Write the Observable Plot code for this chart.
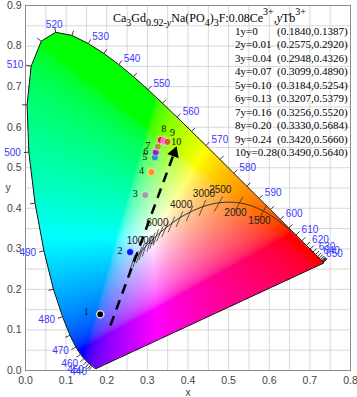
<!DOCTYPE html>
<html><head><meta charset="utf-8">
<script src="https://cdn.jsdelivr.net/npm/d3@7"></script>
<script src="https://cdn.jsdelivr.net/npm/@observablehq/plot@0.6"></script>
<style>
body{margin:0;background:#fff;}
#wrap{position:relative;width:357px;height:397px;}
#title{position:absolute;left:113px;top:11px;font:12px "Liberation Serif","Times New Roman",serif;line-height:14px;color:#000;white-space:nowrap;}
#title sub{font-size:10px;vertical-align:-4px;line-height:0;}
#title sup{font-size:10px;vertical-align:7px;line-height:0;}
#table{position:absolute;left:235px;top:25px;display:grid;grid-template-columns:auto auto;font:11px "Liberation Serif","Times New Roman",serif;line-height:13.45px;color:#000;white-space:pre;}
</style></head>
<body><div id="wrap"></div>
<script>
// CIE 1931 spectral locus (5 nm)
const wavelengths = [380,385,390,395,400,405,410,415,420,425,430,435,440,445,450,455,460,465,470,475,480,485,490,495,500,505,510,515,520,525,530,535,540,545,550,555,560,565,570,575,580,585,590,595,600,605,610,615,620,625,630,635,640,645,650,655,660,665,670,675,680,685,690,695,700];
const locusX = [0.1741,0.1740,0.1738,0.1736,0.1733,0.1730,0.1726,0.1721,0.1714,0.1703,0.1689,0.1669,0.1644,0.1611,0.1566,0.1510,0.1440,0.1355,0.1241,0.1096,0.0913,0.0687,0.0454,0.0235,0.0082,0.0039,0.0139,0.0389,0.0743,0.1142,0.1547,0.1929,0.2296,0.2658,0.3016,0.3373,0.3731,0.4087,0.4441,0.4788,0.5125,0.5448,0.5752,0.6029,0.6270,0.6482,0.6658,0.6801,0.6915,0.7006,0.7079,0.7140,0.7190,0.7230,0.7260,0.7283,0.7300,0.7311,0.7320,0.7327,0.7334,0.7340,0.7344,0.7346,0.7347];
const locusY = [0.0050,0.0050,0.0049,0.0049,0.0048,0.0048,0.0048,0.0048,0.0051,0.0058,0.0069,0.0086,0.0109,0.0138,0.0177,0.0227,0.0297,0.0399,0.0578,0.0868,0.1327,0.2007,0.2950,0.4127,0.5384,0.6548,0.7502,0.8120,0.8338,0.8262,0.8059,0.7816,0.7543,0.7243,0.6923,0.6589,0.6245,0.5896,0.5547,0.5202,0.4866,0.4544,0.4242,0.3965,0.3725,0.3514,0.3340,0.3197,0.3083,0.2993,0.2920,0.2859,0.2809,0.2770,0.2740,0.2717,0.2700,0.2689,0.2680,0.2673,0.2666,0.2660,0.2656,0.2654,0.2653];
const labelWavelengths = [440,450,460,470,480,490,500,510,520,530,540,550,560,570,580,590,600,610,620,630,640,650];

// Planckian locus
const planckT = [1000,1200,1400,1500,1600,1800,2000,2200,2500,2800,3000,3500,4000,4500,5000,5500,6000,6500,7000,8000,9000,10000,12000,15000];
const planckX = [0.6528,0.6251,0.5985,0.5857,0.5732,0.5492,0.5267,0.5056,0.4770,0.4527,0.4369,0.4053,0.3805,0.3608,0.3451,0.3324,0.3221,0.3135,0.3064,0.2952,0.2869,0.2807,0.2719,0.2637];
const planckY = [0.3444,0.3674,0.3858,0.3931,0.3993,0.4082,0.4133,0.4152,0.4137,0.4089,0.4041,0.3907,0.3768,0.3636,0.3516,0.3410,0.3318,0.3236,0.3166,0.3048,0.2956,0.2884,0.2778,0.2681];
const isoT = [1500,2000,2500,3000,3500,4000,4500,5000,5500,6000,6500,7000,8000,9000,10000,12000,15000];
const cctLabelsAbove = [10000,6000,4000,3000,2500];
const cctLabelsBelow = [2000,1500];

// samples
const sampleN = [1,2,3,4,5,6,7,8,9,10];
const sampleTb = ["0","0.01","0.04","0.07","0.10","0.13","0.16","0.20","0.24","0.28"];
const sampleX = [0.1840,0.2575,0.2948,0.3099,0.3184,0.3207,0.3256,0.3330,0.3420,0.3490];
const sampleY = [0.1387,0.2920,0.4326,0.4890,0.5254,0.5379,0.5520,0.5684,0.5660,0.5640];
const sampleColors = ["#000000","#0a14ff","#a0a0a0","#ff9020","#10a0a8","#a020c8","#a0a028","#ff0a3c","#ff40f0","#d06428"];

// arrow
const arrowFrom = [0.209, 0.111];
const arrowTo = [0.372, 0.553];

const xTicks = [0,0.1,0.2,0.3,0.4,0.5,0.6,0.7,0.8];
const yTicks = [0,0.1,0.2,0.3,0.4,0.5,0.6,0.7,0.8,0.9];
const gridXTicks = d3.range(0, 0.8001, 0.05);
const gridYTicks = d3.range(0, 0.9001, 0.05);

// ---- derived
const locus = wavelengths.map((w,i)=>({w, x:locusX[i], y:locusY[i]}));
locus.forEach((d,i)=>{
  const a = locus[Math.max(0,i-1)], b = locus[Math.min(locus.length-1,i+1)];
  const tx=b.x-a.x, ty=b.y-a.y, L=Math.hypot(tx,ty)||1;
  d.nx = -ty/L; d.ny = tx/L;
});
const poly = locus.map(d=>[d.x,d.y]);
const planck = planckT.map((t,i)=>({t, x:planckX[i], y:planckY[i]}));
const pAt = t => planck.find(d=>d.t===t);

function gamut(x, y) {
  if (!d3.polygonContains(poly, [x,y])) return null;
  const X = x / y, Y = 1, Z = (1 - x - y) / y;
  let r = 3.2406*X - 1.5372*Y - 0.4986*Z;
  let g = -0.9689*X + 1.8758*Y + 0.0415*Z;
  let b = 0.0557*X - 0.2040*Y + 1.0570*Z;
  r = Math.max(r,0); g = Math.max(g,0); b = Math.max(b,0);
  const m = Math.max(r,g,b) || 1;
  const gm = c => { c/=m; return c <= 0.0031308 ? 12.92*c : 1.055*Math.pow(c,1/2.4)-0.055; };
  return `rgb(${Math.round(gm(r)*255)},${Math.round(gm(g)*255)},${Math.round(gm(b)*255)})`;
}

const K = 406; // px per unit (approx)
const tickLen = 5/K, labOff = 8/K;
const labels = locus.filter(d=>labelWavelengths.includes(d.w)).map(d=>({...d, lx:d.x+d.nx*labOff, ly:d.y+d.ny*labOff}));

const iso = isoT.map(t=>{
  const p = pAt(t);
  const ang = (t < 3000 ? 61 : t < 6000 ? 67 : 72) * Math.PI/180;
  const ux = Math.cos(ang), uy = Math.sin(ang);
  return {x1:p.x-ux*10/K, y1:p.y-uy*10/K, x2:p.x+ux*7/K, y2:p.y+uy*7/K};
});

const samples = sampleN.map((n,i)=>({n, x:sampleX[i], y:sampleY[i], c:sampleColors[i]}));

const adx = arrowTo[0]-arrowFrom[0], ady = arrowTo[1]-arrowFrom[1], aL = Math.hypot(adx,ady);
const headC = [arrowTo[0]-adx/aL*7/K, arrowTo[1]-ady/aL*7/K];
const headRot = Math.atan2(adx, ady)*180/Math.PI;

const sans = "'Liberation Sans', Arial, sans-serif";
const serif = "'Liberation Serif', 'Times New Roman', serif";

const chart = Plot.plot({
  width: 357, height: 397,
  marginLeft: 25, marginRight: 7, marginTop: 5, marginBottom: 27,
  x: {domain:[0,0.8]}, y: {domain:[0,0.9]},
  color: {type: "identity"},
  style: {fontFamily: sans, fontSize: "10.5px", color: "#333", background: "white"},
  marks: [
    Plot.gridX(gridXTicks, {stroke:"#d8d8d8", strokeOpacity:1}),
    Plot.gridY(gridYTicks, {stroke:"#d8d8d8", strokeOpacity:1}),
    Plot.raster({x1:0, x2:0.8, y1:0, y2:0.9, fill: gamut, imageRendering:"auto"}),
    Plot.frame({stroke:"#8a8a8a"}),
    Plot.axisX({ticks:xTicks, tickFormat:d3.format(".1f"), tickSize:0, tickPadding:6, label:"x", labelArrow:"none", labelAnchor:"center", labelOffset:25, fill:"#444"}),
    Plot.axisY({ticks:yTicks, tickFormat:d3.format(".1f"), tickSize:0, tickPadding:4, label:null, fill:"#444"}),
    Plot.text(["y"], {frameAnchor:"left", dx:-20, text:d=>d, fill:"#444"}),
    Plot.line(locus.concat([locus[0]]), {x:"x", y:"y", stroke:"#111", strokeWidth:1}),
    Plot.link(locus.filter(d=>d.w>=440 && d.w<=680), {x1:"x", y1:"y", x2:d=>d.x+d.nx*tickLen, y2:d=>d.y+d.ny*tickLen, stroke:"#222", strokeWidth:0.9}),
    Plot.text(labels.filter(d=>d.nx < -0.3), {x:"lx", y:"ly", text:d=>String(d.w), textAnchor:"end", fill:"#3a3aff", fontSize:10}),
    Plot.text(labels.filter(d=>d.nx > 0.3), {x:"lx", y:"ly", text:d=>String(d.w), textAnchor:"start", fill:"#3a3aff", fontSize:10}),
    Plot.text(labels.filter(d=>Math.abs(d.nx) <= 0.3), {x:"lx", y:"ly", text:d=>String(d.w), textAnchor:"middle", fill:"#3a3aff", fontSize:10}),
    Plot.line(planck, {x:"x", y:"y", stroke:"#333", strokeWidth:1, curve:"catmull-rom"}),
    Plot.link(iso, {x1:"x1", y1:"y1", x2:"x2", y2:"y2", stroke:"#333", strokeWidth:0.8}),
    Plot.text(planck.filter(d=>cctLabelsAbove.includes(d.t)), {x:"x", y:"y", text:d=>String(d.t), dx:1, dy:-13, fill:"#222", fontSize:10}),
    Plot.text(planck.filter(d=>cctLabelsBelow.includes(d.t)), {x:"x", y:"y", text:d=>String(d.t), dx:-4, dy:10, fill:"#222", fontSize:10}),
    Plot.link([{x1:arrowFrom[0], y1:arrowFrom[1], x2:headC[0], y2:headC[1]}], {x1:"x1", y1:"y1", x2:"x2", y2:"y2", stroke:"#000", strokeWidth:2.5, strokeDasharray:"10,7"}),
    Plot.dot([{x:headC[0], y:headC[1]}], {x:"x", y:"y", symbol:"triangle", r:4.5, fill:"#000", rotate:headRot}),
    Plot.dot(samples, {x:"x", y:"y", r:3.6, fill:"c", stroke:d=>d.n===1?"#d0d0d0":"white", strokeWidth:d=>d.n===1?1.5:0.6}),
    Plot.text(samples.filter(d=>d.n===1), {x:"x", y:"y", text:d=>String(d.n), dx:-14, dy:-2, fontFamily:serif, fontSize:10, fill:"#111"}),
    Plot.text(samples.filter(d=>d.n>=2 && d.n<=7), {x:"x", y:"y", text:d=>String(d.n), dx:-10, dy:-1, fontFamily:serif, fontSize:10, fill:"#111"}),
    Plot.text(samples.filter(d=>d.n===8), {x:"x", y:"y", text:d=>String(d.n), dx:3, dy:-11, fontFamily:serif, fontSize:10, fill:"#111"}),
    Plot.text(samples.filter(d=>d.n===9), {x:"x", y:"y", text:d=>String(d.n), dx:8, dy:-8, fontFamily:serif, fontSize:10, fill:"#111"}),
    Plot.text(samples.filter(d=>d.n===10), {x:"x", y:"y", text:d=>String(d.n), dx:4, dy:0, textAnchor:"start", fontFamily:serif, fontSize:10, fill:"#111"})
  ]
});
const wrap = document.getElementById("wrap");
wrap.appendChild(chart);

const title = document.createElement("div");
title.id = "title";
title.innerHTML = 'Ca<sub>3</sub>Gd<sub>0.92-<i>y</i></sub>Na(PO<sub>4</sub>)<sub>3</sub>F:0.08Ce<sup>3+</sup>,<i>y</i>Tb<sup>3+</sup>';
wrap.appendChild(title);

const table = document.createElement("div");
table.id = "table";
samples.forEach((d,i)=>{
  const a = document.createElement("span"); a.textContent = `${d.n}y=${sampleTb[i]}`;
  const b = document.createElement("span"); b.textContent = `(${sampleX[i].toFixed(4)},${sampleY[i].toFixed(4)})`;
  b.style.textAlign = "right";
  table.appendChild(a); table.appendChild(b);
});
wrap.appendChild(table);
</script>
</body></html>
